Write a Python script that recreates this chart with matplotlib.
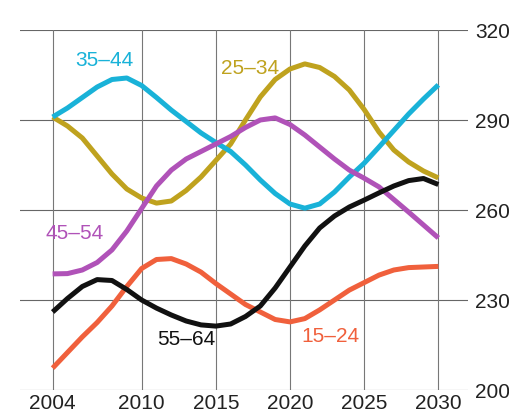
import matplotlib.pyplot as plt
from matplotlib import font_manager

# Anni e valori (migliaia, per fascia d'età)
years = list(range(2004, 2031))

age_15_24 = [207.3, 212.5, 217.7, 222.5, 228.0, 234.5, 240.5, 243.5, 243.8, 242.0, 239.3, 235.5, 232.0, 228.5,
             226.0, 223.5, 222.7, 223.8, 226.7, 230.0, 233.3, 235.8, 238.3, 240.0, 240.8, 241.0, 241.2]
age_25_34 = [291.0, 288.0, 284.0, 278.0, 272.0, 267.0, 264.0, 262.3, 263.0, 266.5, 271.0, 276.5, 282.0, 290.0,
             297.7, 303.5, 307.0, 308.7, 307.5, 304.5, 300.0, 293.5, 286.0, 280.0, 276.0, 273.0, 270.7]
age_35_44 = [291.0, 294.0, 297.5, 301.0, 303.5, 304.0, 301.5, 297.5, 293.3, 289.5, 285.7, 282.5, 279.5, 275.0,
             270.0, 265.5, 262.0, 260.6, 262.0, 266.0, 271.0, 275.6, 281.0, 286.5, 292.0, 297.0, 301.7]
age_45_54 = [238.7, 238.8, 240.0, 242.5, 246.7, 253.0, 260.5, 268.0, 273.3, 277.0, 279.5, 282.0, 284.5, 287.5,
             290.0, 290.7, 288.5, 285.0, 281.0, 277.0, 273.3, 270.6, 267.7, 263.5, 259.3, 255.0, 250.7]
age_55_64 = [226.0, 230.5, 234.5, 236.8, 236.5, 233.5, 230.0, 227.3, 225.0, 223.0, 221.7, 221.3, 222.0, 224.5,
             228.0, 234.0, 241.0, 248.0, 254.0, 258.0, 261.0, 263.3, 265.7, 268.0, 269.8, 270.5, 268.5]

series_names = ["15\u201324", "25\u201334", "35\u201344", "45\u201354", "55\u201364"]
series_values = [age_15_24, age_25_34, age_35_44, age_45_54, age_55_64]
series_colors = ["#f0603c", "#bfa21e", "#19b2d8", "#b052b8", "#111111"]

# posizioni delle etichette (anno, valore)
label_pos = [(2022.7, 218.0), (2017.3, 307.3), (2007.5, 310.0), (2005.5, 252.3), (2013.0, 216.7)]

x_ticks = [2004, 2010, 2015, 2020, 2025, 2030]
y_ticks = [200, 230, 260, 290, 320]

# font condensato se disponibile
available = {f.name for f in font_manager.fontManager.ttflist}
family = "Liberation Sans Narrow" if "Liberation Sans Narrow" in available else "Liberation Sans"
plt.rcParams['font.family'] = [family, 'DejaVu Sans']

fig = plt.figure(figsize=(5.10, 4.17), dpi=100)
ax = fig.add_axes([20 / 510, 1 - 390 / 417, 448 / 510, 360 / 417])

for name, vals, col in zip(series_names, series_values, series_colors):
    ax.plot(years, vals, color=col, lw=3.6, solid_capstyle='butt', solid_joinstyle='round', zorder=3)

for name, (lx, ly), col in zip(series_names, label_pos, series_colors):
    ax.text(lx, ly, name, color=col, fontsize=15, ha='center', va='center', zorder=4)

ax.set_xlim(2001.8, 2032.0)
ax.set_ylim(200, 320)

# griglia
for yv in y_ticks:
    ax.axhline(yv, color='#666666', lw=0.8, zorder=1)
for xv in x_ticks:
    ax.axvline(xv, color='#777777', lw=0.8, zorder=1)

for s in ax.spines.values():
    s.set_visible(False)

ax.set_xticks(x_ticks)
ax.set_yticks(y_ticks)
ax.yaxis.tick_right()
ax.tick_params(axis='both', length=0, labelsize=15, colors='#222222')
ax.tick_params(axis='y', pad=5)
ax.tick_params(axis='x', pad=3)

fig.savefig("out.png", dpi=100)
